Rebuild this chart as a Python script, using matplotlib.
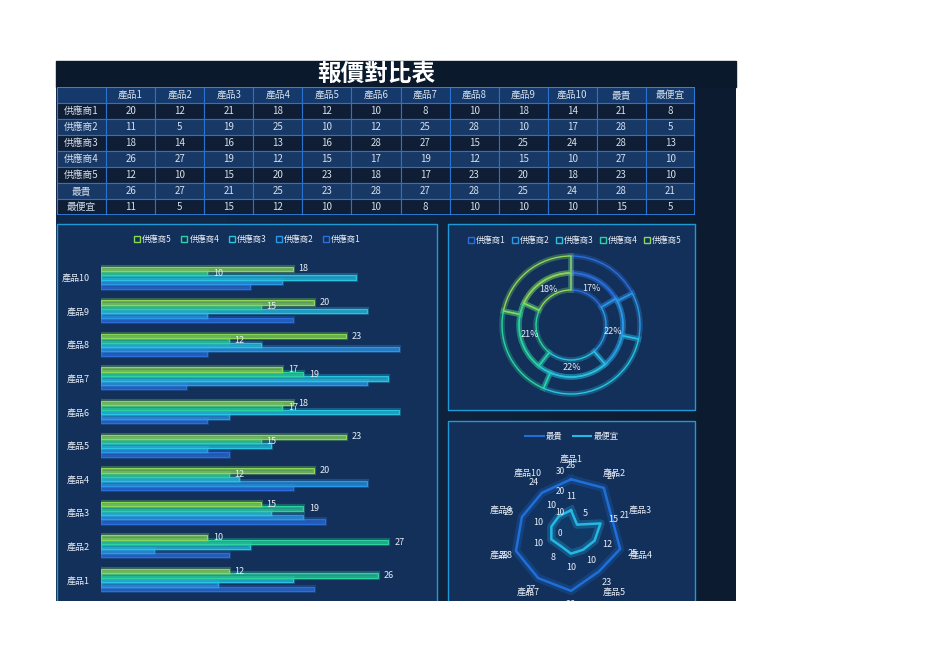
import numpy as np
import matplotlib
matplotlib.use("Agg")
import matplotlib.pyplot as plt
import matplotlib.patheffects as pe
from matplotlib.patches import Rectangle
from matplotlib.lines import Line2D
from matplotlib.colors import LinearSegmentedColormap
from matplotlib import transforms

plt.rcParams['font.family'] = ['Noto Sans CJK TC', 'DejaVu Sans']

products = ["產品1", "產品2", "產品3", "產品4", "產品5",
            "產品6", "產品7", "產品8", "產品9", "產品10"]
suppliers = ["供應商1", "供應商2", "供應商3", "供應商4", "供應商5"]
supplier1 = [20, 12, 21, 18, 12, 10, 8, 10, 18, 14]
supplier2 = [11, 5, 19, 25, 10, 12, 25, 28, 10, 17]
supplier3 = [18, 14, 16, 13, 16, 28, 27, 15, 25, 24]
supplier4 = [26, 27, 19, 12, 15, 17, 19, 12, 15, 10]
supplier5 = [12, 10, 15, 20, 23, 18, 17, 23, 20, 18]
supplier_max = [21, 28, 28, 27, 23]     # 最貴 column
supplier_min = [8, 5, 13, 10, 10]       # 最便宜 column
product_max = [26, 27, 21, 25, 23, 28, 27, 28, 25, 24]
product_min = [11, 5, 15, 12, 10, 10, 8, 10, 10, 10]
corner_max = [28, 21]
corner_min = [15, 5]

series = [supplier1, supplier2, supplier3, supplier4, supplier5]
colors = ["#2b6fdc", "#2a9ae8", "#28c4e2", "#2bd39e", "#8ad858"]
WHITE = "#e8eef6"

W, H = 936, 662
fig = plt.figure(figsize=(W / 100, H / 100), dpi=100)
fig.patch.set_facecolor("white")


def rect(x0, y0, x1, y1):
    return [x0 / W, 1 - y1 / H, (x1 - x0) / W, (y1 - y0) / H]


def glow(color, width=3.5, alpha=0.35):
    return [pe.Stroke(linewidth=width, foreground=color, alpha=alpha), pe.Normal()]


# background of the dashboard
bg = fig.add_axes([0, 0, 1, 1])
cmap = LinearSegmentedColormap.from_list("bg", ["#112a4b", "#0f2440", "#0c1b2f"])
bg.imshow(np.linspace(0, 1, 256).reshape(1, -1), extent=(56, 736, 601, 61),
          cmap=cmap, aspect="auto")
bg.add_patch(Rectangle((56, 61), 680, 26, color="#0b192c"))
panel_fc, panel_ec = "#12305a", "#1e9bd6"
for x0, y0, x1, y1 in [(57, 224, 437, 606), (448, 224, 695, 410), (448, 421, 695, 606)]:
    bg.add_patch(Rectangle((x0, y0), x1 - x0, y1 - y0, fc=panel_fc, ec=panel_ec, lw=1))
bg.text(376, 74, "報價對比表", color="white", fontsize=17, fontweight="bold",
        ha="center", va="center")
bg.set_xlim(0, W)
bg.set_ylim(H, 0)
bg.axis("off")

# table
tb = fig.add_axes(rect(57, 87, 695, 215))
header = [""] + products + ["最貴", "最便宜"]
rows = [header]
for i, name in enumerate(suppliers):
    rows.append([name] + series[i] + [supplier_max[i], supplier_min[i]])
rows.append(["最貴"] + product_max + corner_max)
rows.append(["最便宜"] + product_min + corner_min)
for r, row in enumerate(rows):
    fc = "#15396a" if r == 0 else ("#0f1e35" if r % 2 == 1 else "#183866")
    for c, val in enumerate(row):
        tb.add_patch(Rectangle((c, r), 1, 1, fc=fc, ec="#2a72d0", lw=0.8))
        tb.text(c + 0.5, r + 0.52, str(val), color="#d6e0ec", fontsize=7,
                ha="center", va="center")
tb.add_patch(Rectangle((0, 0), 13, 8, fill=False, ec="#2f86e8", lw=1.2))
tb.set_xlim(0, 13)
tb.set_ylim(8, 0)
tb.axis("off")

# horizontal bar chart
ax = fig.add_axes(rect(101, 260.8, 431, 596.8))
ax.patch.set_alpha(0)
ypos = np.arange(len(products))
h = 0.13
for i, vals in enumerate(series):
    bars = ax.barh(ypos + (i - 2) * h, vals, height=h,
                   color=matplotlib.colors.to_rgba(colors[i], 0.45),
                   edgecolor=colors[i], linewidth=0.8)
    for b in bars:
        b.set_path_effects(glow(colors[i], 3, 0.3))
    if i >= 3:
        for y, v in zip(ypos + (i - 2) * h, vals):
            ax.text(v + 0.55, y, str(v), color=WHITE, fontsize=6.5, va="center")
ax.set_xlim(0, 31)
ax.set_ylim(-0.5, 9.5)
ax.set_yticks(ypos)
ax.set_yticklabels(products, color=WHITE, fontsize=6.5)
ax.tick_params(axis="y", length=0, pad=8)
ax.set_xticks([])
for s in ax.spines.values():
    s.set_visible(False)

bar_handles = [Line2D([], [], ls="none", marker="s", markersize=4, markerfacecolor="none",
                      markeredgecolor=colors[i], label=suppliers[i]) for i in range(4, -1, -1)]
fig.legend(handles=bar_handles, loc="center", bbox_to_anchor=(247 / W, 1 - 239 / H),
           ncol=5, frameon=False, fontsize=6, labelcolor=WHITE, handletextpad=0.1,
           columnspacing=1.0, handlelength=1)

# donut chart
dx = fig.add_axes(rect(496, 250, 646, 400))
dx.patch.set_alpha(0)
outer, _ = dx.pie(supplier_min, radius=69, startangle=90, counterclock=False,
                  wedgeprops=dict(width=17))
inner, _, pct = dx.pie(supplier_max, radius=52, startangle=90, counterclock=False,
                       wedgeprops=dict(width=17), autopct="%.0f%%", pctdistance=0.81,
                       textprops=dict(color=WHITE, fontsize=6.5))
for wedges in (outer, inner):
    for w, c in zip(wedges, colors):
        w.set_facecolor("none")
        w.set_edgecolor(c)
        w.set_linewidth(1)
        w.set_path_effects(glow(c, 4, 0.3))
dx.set_xlim(-75, 75)
dx.set_ylim(-75, 75)
dx.set_aspect("equal")
dx.axis("off")

donut_handles = [Line2D([], [], ls="none", marker="s", markersize=4, markerfacecolor="none",
                        markeredgecolor=colors[i], label=suppliers[i]) for i in range(5)]
fig.legend(handles=donut_handles, loc="center", bbox_to_anchor=(574 / W, 1 - 240 / H),
           ncol=5, frameon=False, fontsize=6, labelcolor=WHITE, handletextpad=0.1,
           columnspacing=0.6, handlelength=1)

# radar chart
rx = fig.add_axes(rect(509, 471, 633, 595), projection="polar")
rx.patch.set_alpha(0)
rx.set_theta_zero_location("N")
rx.set_theta_direction(-1)
theta = np.arange(len(products)) * 2 * np.pi / len(products)
tc = np.append(theta, theta[0])
max_color, min_color = "#1f6fd8", "#24b8e6"
for vals, c in [(product_max, max_color), (product_min, min_color)]:
    vc = np.append(vals, vals[0])
    rx.plot(tc, vc, color=c, lw=1.8, path_effects=glow(c, 6, 0.25))
    rx.fill(tc, vc, color=c, alpha=0.05)
    for t, v in zip(theta, vals):
        rx.text(t, v + 6.5, str(v), color=WHITE, fontsize=6.5, ha="center", va="center",
                clip_on=False)
for t, name in zip(theta, products):
    rx.text(t, 35.5, name, color=WHITE, fontsize=6.5, ha="center", va="center", clip_on=False)
shift = transforms.offset_copy(rx.transData, fig=fig, x=-11, y=0, units="dots")
for r in [0, 10, 20, 30]:
    rx.text(0, r, str(r), color=WHITE, fontsize=6, ha="center", va="center",
            transform=shift, clip_on=False)
rx.set_ylim(0, 30)
rx.set_xticks([])
rx.set_yticks([])
rx.grid(False)
rx.spines["polar"].set_visible(False)

radar_handles = [Line2D([], [], color=max_color, lw=1.5, label="最貴"),
                 Line2D([], [], color=min_color, lw=1.5, label="最便宜")]
fig.legend(handles=radar_handles, loc="center", bbox_to_anchor=(572 / W, 1 - 436 / H),
           ncol=2, frameon=False, fontsize=6, labelcolor=WHITE, handlelength=2.2,
           handletextpad=0.3, columnspacing=1.2)

# page below the dashboard stays white
ov = fig.add_axes(rect(0, 600.5, W, H))
ov.set_zorder(20)
ov.add_patch(Rectangle((0, 0), 1, 1, color="white", transform=ov.transAxes))
ov.axis("off")

fig.savefig("out.png", dpi=100, facecolor="white")
